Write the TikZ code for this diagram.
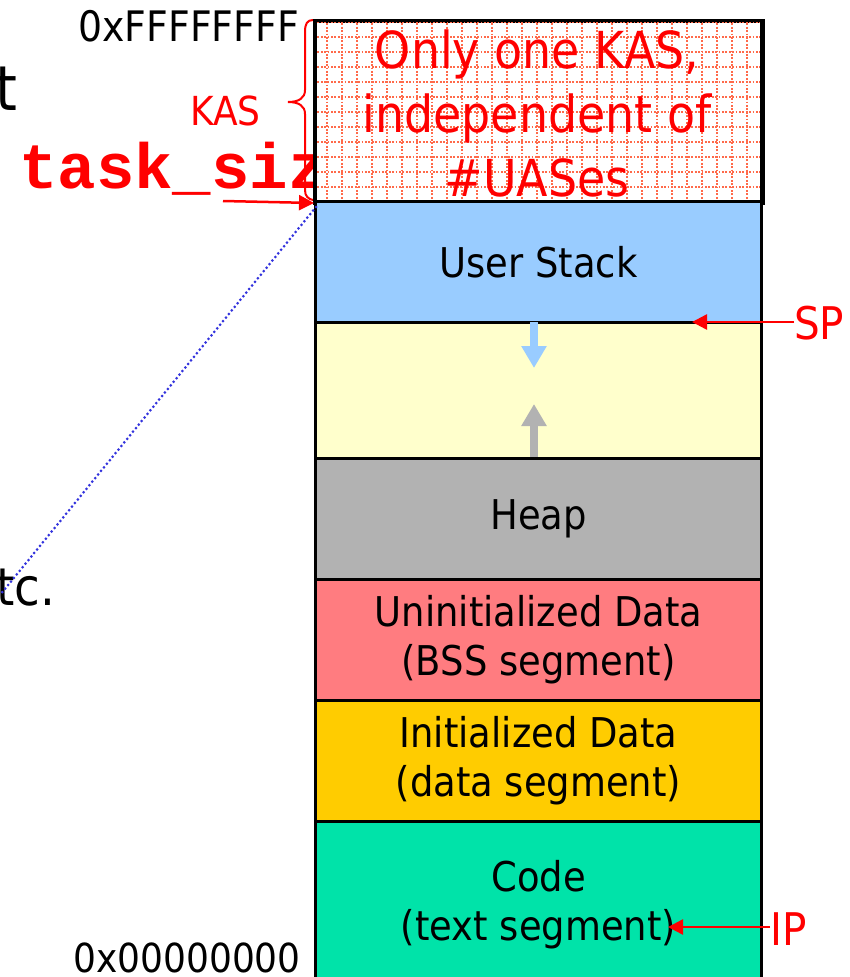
\documentclass[tikz,border=0pt]{standalone}
\usepackage{fontspec}
\setmainfont{DejaVu Sans}[FakeStretch=0.9]
\setmonofont{Liberation Mono}
\usetikzlibrary{arrows.meta,calc}

\definecolor{stackblue}{HTML}{99CCFF}
\definecolor{gapyellow}{HTML}{FFFFCC}
\definecolor{heapgray}{HTML}{B2B2B2}
\definecolor{bsspink}{HTML}{FF7C80}
\definecolor{datagold}{HTML}{FFCC00}
\definecolor{codegreen}{HTML}{00E3A9}
\definecolor{gridred}{HTML}{FF6A4A}
\definecolor{linkblue}{HTML}{3333DD}

\newcommand\segfont{\fontsize{41}{49}\selectfont}
\newcommand\kasfont{\fontsize{51}{64}\selectfont}
\newcommand\addrfont{\fontsize{42}{48}\selectfont}

\begin{document}
\begin{tikzpicture}[x=1pt,y=-1pt,
  seg/.style={draw=black, line width=3pt, minimum width=446pt, anchor=north west,
    inner sep=0pt, align=center, font=\segfont},
  lbl/.style={inner sep=0pt},
  redlbl/.style={inner sep=0pt, text=red},
  ptr/.style={draw=red, line width=2.5pt, -{Triangle[length=15pt,width=15pt]}},
  growarrow/.style={line width=8pt, -{Triangle[length=22pt,width=24pt]}},
  gridline/.style={draw=gridred, line width=2pt, dash pattern=on 1.8pt off 1.6pt}
]
\clip (0,0) rectangle (850,977);

% cut-off text on the left
\node[lbl, anchor=base west, font=\fontsize{62}{70}\selectfont] (tword) at (-5,110) {t};
\node[lbl, anchor=base west, font=\fontsize{52}{60}\selectfont] (etc) at (-4,605) {tc.};
\node[lbl, anchor=base west, text=red, font=\ttfamily\bfseries\fontsize{64}{70}\selectfont] (tsize) at (19,188) {task\_size};

% address labels
\node[lbl, anchor=base east, font=\addrfont] (hi) at (299,41) {0xFFFFFFFF};
\node[lbl, anchor=base east, font=\fontsize{40}{48}\selectfont] (lo) at (301,972) {0x00000000};
\node[redlbl, anchor=base east, font=\fontsize{40}{48}\selectfont] (kaslbl) at (261,125) {KAS};

% brace marking the kernel part
\draw[red, line width=2pt] (313,20) .. controls (307,20) and (305,24) .. (305,32)
  -- (305,90) .. controls (305,98) and (299,102) .. (288,102)
  .. controls (299,102) and (305,106) .. (305,114) -- (305,190)
  .. controls (305,196) and (308,199) .. (313,200);

% segments of the address space
\node[seg, fill=white, minimum height=180pt] (kas) at (314,20) {};
\begin{scope}
  \clip (kas.north west) rectangle (kas.south east);
  \foreach \gx in {327,342,...,760} \draw[gridline] (\gx,20) -- (\gx,200);
  \foreach \gy in {22,37,...,200} \draw[gridline] (314,\gy) -- (760,\gy);
\end{scope}
\draw[black, line width=3pt] (kas.north west) rectangle (kas.south east);
\node[redlbl, align=center, font=\kasfont] (kastext) at (537,113) {Only one KAS,\\independent of\\\#UASes};

\node[seg, fill=stackblue, minimum height=121pt] (stack) at (314,200) {User Stack};
\node[seg, fill=gapyellow, minimum height=136pt] (gap) at (314,321) {};
\node[seg, fill=heapgray, minimum height=121pt] (heap) at (314,457) {Heap};
\node[seg, fill=bsspink, minimum height=121pt] (bss) at (314,578) {Uninitialized Data\\(BSS segment)};
\node[seg, fill=datagold, minimum height=121pt] (data) at (314,699) {Initialized Data\\(data segment)};
\node[seg, fill=codegreen, minimum height=166pt] (code) at (314,820) {Code\\(text segment)};

% growth directions of stack and heap
\draw[growarrow, draw=stackblue, fill=stackblue] (534,322) -- (534,368);
\draw[growarrow, draw=heapgray, fill=heapgray] (534,457) -- (534,404);

% register pointers
\node[redlbl, anchor=west, font=\fontsize{45}{50}\selectfont] (sp) at (794,323) {SP};
\coordinate (sptip) at (692,322);
\draw[ptr] (sp.west |- sptip) -- (sptip);

\node[redlbl, anchor=base west, font=\fontsize{45}{50}\selectfont] (ip) at (770,945) {IP};
\coordinate (iptip) at (668,927);
\draw[ptr] (ip.west |- iptip) -- (iptip);

% task_size boundary
\coordinate (tsstart) at (223,201);
\draw[ptr] (tsstart) -- (kas.south west);

% link to the left-hand list
\coordinate (etcend) at (0,595);
\draw[linkblue, line width=3pt, line cap=round, dash pattern=on 0pt off 4.6pt] ($(kas.south west)+(2,4)$) -- (etcend);
\end{tikzpicture}
\end{document}
